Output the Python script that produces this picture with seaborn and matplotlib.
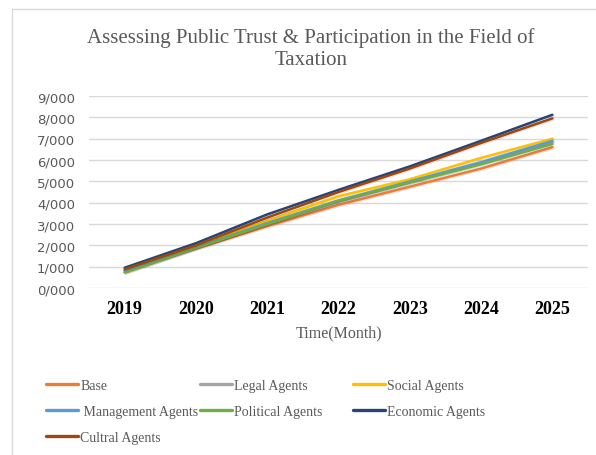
import numpy as np
import pandas as pd
import seaborn as sns
import matplotlib
matplotlib.use("Agg")
import matplotlib.pyplot as plt
from matplotlib.lines import Line2D
import matplotlib.patheffects as pe

years = ["2019", "2020", "2021", "2022", "2023", "2024", "2025"]
base = [0.75, 1.85, 2.90, 3.90, 4.75, 5.60, 6.60]
legal = [0.78, 1.90, 3.00, 4.05, 4.95, 5.85, 6.85]
social = [0.80, 1.95, 3.15, 4.30, 5.10, 6.10, 7.00]
management = [0.82, 1.90, 3.05, 4.10, 5.00, 5.90, 6.90]
political = [0.72, 1.88, 3.00, 4.10, 4.95, 5.80, 6.75]
economic = [0.95, 2.10, 3.45, 4.60, 5.70, 6.90, 8.12]
cultural = [0.88, 2.00, 3.30, 4.50, 5.60, 6.80, 7.95]

series_names = ["Base", "Legal Agents", "Social Agents", " Management Agents",
                "Political Agents", "Economic Agents", "Cultral Agents"]
series_vals = [base, legal, social, management, political, economic, cultural]
colors = ["#ED7D31", "#A5A5A5", "#FFC000", "#5B9BD5", "#70AD47", "#264478", "#9E480E"]
yticks = [0, 1, 2, 3, 4, 5, 6, 7, 8, 9]
ytick_labels = ["0/000", "1/000", "2/000", "3/000", "4/000", "5/000",
                "6/000", "7/000", "8/000", "9/000"]

rows = []
for name, vals in zip(series_names, series_vals):
    for i, v in enumerate(vals):
        rows.append({"x": i, "value": v, "series": name})
df = pd.DataFrame(rows)

sns.set_theme(style="white")
plt.rcParams["font.family"] = ["DejaVu Sans"]

fig = plt.figure(figsize=(5.96, 4.56), dpi=100)
W, H = 596, 456
ax = fig.add_axes([89 / W, (H - 289) / H, 499 / W, 192 / H])

sns.lineplot(data=df, x="x", y="value", hue="series", hue_order=series_names,
             palette=colors, linewidth=1.8, ax=ax, legend=True)
for ln in ax.get_lines():
    ln.set_path_effects([pe.SimpleLineShadow(offset=(0.8, -0.8), alpha=0.12), pe.Normal()])

ax.set_xlim(-0.5, 6.5)
ax.set_ylim(0, 9)
ax.set_xticks(range(len(years)))
ax.set_xticklabels(years, fontfamily="Liberation Serif", fontweight="bold",
                   fontsize=13, color="#000000")
ax.set_yticks(yticks)
ax.set_yticklabels(ytick_labels, fontsize=9.5, color="#595959")
ax.tick_params(axis="y", length=0, pad=10)
ax.tick_params(axis="x", length=0, pad=9)
ax.grid(axis="y", color="#D9D9D9", linewidth=1)
for s in ax.spines.values():
    s.set_visible(False)
ax.set_xlabel("Time(Month)", fontfamily="Liberation Serif", fontsize=11.5,
              color="#595959", labelpad=5)
ax.set_ylabel("")

handles, labels = ax.get_legend_handles_labels()
ax.get_legend().remove()
hmap = dict(zip(labels, handles))

fig.text(311 / W, 1 - 49 / H, "Assessing Public Trust & Participation in the Field of\nTaxation",
         ha="center", va="center", fontfamily="Liberation Serif", fontsize=15,
         color="#595959", linespacing=1.25)

cols = [(46, ["Base", " Management Agents", "Cultral Agents"]),
        (200, ["Legal Agents", "Political Agents"]),
        (353, ["Social Agents", "Economic Agents"])]
for xh, names in cols:
    hs = [Line2D([], [], color=hmap[n].get_color(), linewidth=2.4) for n in names]
    leg = fig.legend(hs, names, loc="upper left", bbox_to_anchor=(xh / W, 1 - 380 / H),
                     frameon=False, borderpad=0, borderaxespad=0, handlelength=2.3,
                     handletextpad=0.18, labelspacing=0.92,
                     prop={"family": "Liberation Serif", "size": 10})
    for t in leg.get_texts():
        t.set_color("#595959")

fig.add_artist(Line2D([12 / W, 12 / W], [0, 1 - 10 / H], color="#D9D9D9", linewidth=1,
                      transform=fig.transFigure))
fig.add_artist(Line2D([12 / W, 1], [1 - 10 / H, 1 - 10 / H], color="#D9D9D9", linewidth=1,
                      transform=fig.transFigure))

fig.savefig("out.png", dpi=100)
